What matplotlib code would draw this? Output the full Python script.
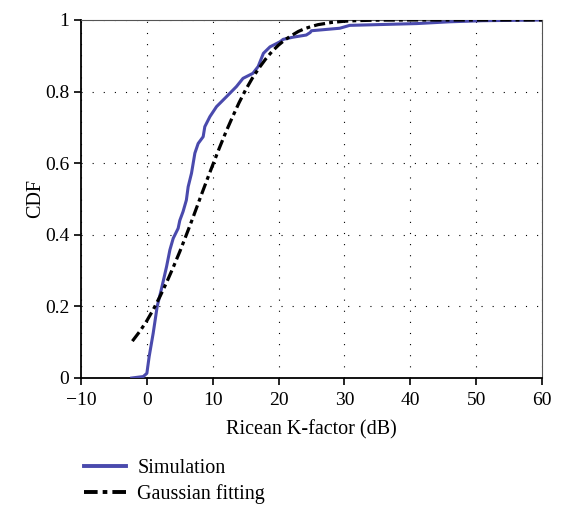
import matplotlib.pyplot as plt
from matplotlib.lines import Line2D

plt.rcParams['font.family'] = ['Liberation Serif', 'DejaVu Serif']

# Simulation CDF
sim_x = [-2.3, -0.55, 0.0, 0.35, 0.96, 1.57, 2.23, 2.99, 3.5, 4.0, 4.75, 5.0, 5.5,
         6.0, 6.27, 6.78, 7.29, 7.79, 8.55, 8.8, 9.57, 10.58, 12.1, 13.6, 14.6,
         16.1, 16.9, 17.7, 18.7, 20.2, 20.7, 22.2, 24.2, 24.8, 25.0, 29.3, 30.8,
         41.0, 46.0, 51.0, 60.0]
sim_y = [0.0, 0.004, 0.013, 0.06, 0.125, 0.2, 0.25, 0.311, 0.358, 0.39, 0.418, 0.44, 0.465,
         0.497, 0.534, 0.572, 0.628, 0.655, 0.674, 0.702, 0.73, 0.758, 0.786, 0.814, 0.837,
         0.851, 0.87, 0.907, 0.925, 0.939, 0.946, 0.952, 0.958, 0.965, 0.970, 0.977, 0.985,
         0.99, 0.995, 0.998, 1.0]

# Gaussian fitting curve
fit_x = [-2.2, -1, 0, 1, 2, 3, 4, 5, 6, 7, 8, 9, 10, 11, 12, 13, 14, 15, 16, 17,
         18, 19, 20, 21, 22, 23, 24, 25, 26, 27, 28, 30, 32, 35, 40, 50, 60]
fit_y = [0.103, 0.132, 0.160, 0.192, 0.228, 0.267, 0.309, 0.353, 0.400, 0.448, 0.498,
         0.547, 0.595, 0.642, 0.687, 0.729, 0.769, 0.805, 0.837, 0.865, 0.890, 0.912,
         0.930, 0.945, 0.957, 0.968, 0.976, 0.982, 0.987, 0.990, 0.993, 0.9966, 0.9984,
         0.9996, 1.0, 1.0, 1.0]

blue = '#4a4aad'
dash = (0, (3.5, 1.3, 1.2, 1.3))

fig = plt.figure(figsize=(5.61, 5.05), dpi=100)
ax = fig.add_axes([0.1444, 0.2515, 0.8217, 0.7089])

ax.plot(sim_x, sim_y, color=blue, lw=2.2, zorder=3)
ax.plot(fit_x, fit_y, color='black', lw=2.3, linestyle=dash, zorder=4)

ax.set_xlim(-10, 60)
ax.set_ylim(0, 1)
ax.set_xticks(range(-10, 61, 10))
ax.set_xticklabels(['\u221210'] + [str(v) for v in range(0, 61, 10)])
ax.set_yticks([0, 0.2, 0.4, 0.6, 0.8, 1])
ax.set_yticklabels(['0', '0.2', '0.4', '0.6', '0.8', '1'])
ax.grid(True, color='black', linestyle=(0, (1, 9)), linewidth=0.8)
ax.tick_params(direction='out', length=5, width=1.2, labelsize=14, colors='black')
ax.tick_params(axis='x', pad=5)

for side in ['left', 'bottom']:
    ax.spines[side].set_linewidth(1.3)
for side in ['top', 'right']:
    ax.spines[side].set_linewidth(0.8)
    ax.spines[side].set_color('#555555')

ax.set_xlabel('Ricean K-factor (dB)', fontsize=14.5, labelpad=8)
ax.set_ylabel('CDF', fontsize=14.5, labelpad=0)

handles = [Line2D([], [], color=blue, lw=2.8),
           Line2D([], [], color='black', lw=2.8, linestyle=dash)]
fig.legend(handles, ['Simulation', 'Gaussian fitting'], loc='upper left',
           bbox_to_anchor=(0.135, 0.108), frameon=False, fontsize=14.5,
           handlelength=2.1, handletextpad=0.55, labelspacing=0.3, borderaxespad=0)

fig.savefig('out.png', dpi=100)
